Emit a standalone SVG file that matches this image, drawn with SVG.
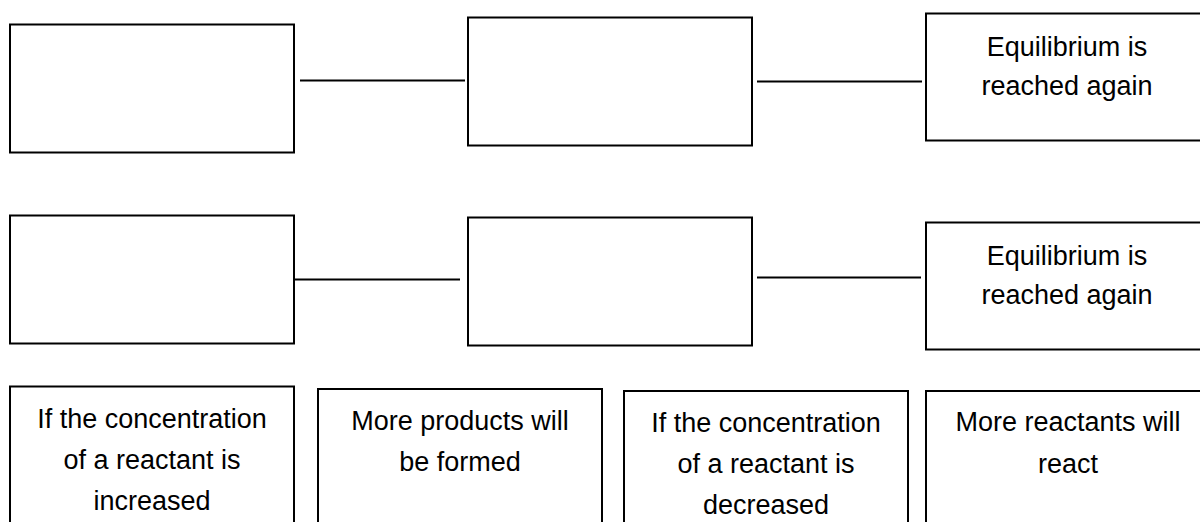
<svg xmlns="http://www.w3.org/2000/svg" width="1200" height="522" viewBox="0 0 1200 522">
<style>
.box{fill:#fff;stroke:#000;stroke-width:2}
.con{stroke:#000;stroke-width:2;fill:none}
text{font-family:"Liberation Sans",Arial,sans-serif;font-size:27px;fill:#000;text-anchor:middle}
</style>
<rect width="1200" height="522" fill="#fff"/>
<g id="connectors">
<line class="con" x1="300" y1="80.5" x2="465" y2="80.5"/>
<line class="con" x1="757" y1="81.5" x2="922" y2="81.5"/>
<line class="con" x1="294" y1="279.5" x2="460" y2="279.5"/>
<line class="con" x1="757" y1="277.5" x2="921" y2="277.5"/>
</g>
<g id="n1"><rect class="box" x="10" y="24.5" width="284" height="128"/></g>
<g id="n2"><rect class="box" x="468" y="17.5" width="284" height="128"/></g>
<g id="n3"><rect class="box" x="926" y="13.5" width="280" height="127"/>
<text x="1067" y="56">Equilibrium is</text><text x="1067" y="95">reached again</text></g>
<g id="n4"><rect class="box" x="10" y="215.5" width="284" height="128"/></g>
<g id="n5"><rect class="box" x="468" y="217.5" width="284" height="128"/></g>
<g id="n6"><rect class="box" x="926" y="222.5" width="280" height="127"/>
<text x="1067" y="265">Equilibrium is</text><text x="1067" y="304">reached again</text></g>
<g id="n7"><rect class="box" x="10" y="386.5" width="284" height="150"/>
<text x="152" y="428">If the concentration</text><text x="152" y="469">of a reactant is</text><text x="152" y="510">increased</text></g>
<g id="n8"><rect class="box" x="318" y="389" width="284" height="150"/>
<text x="460" y="430">More products will</text><text x="460" y="471">be formed</text></g>
<g id="n9"><rect class="box" x="624" y="391" width="284" height="150"/>
<text x="766" y="432">If the concentration</text><text x="766" y="473">of a reactant is</text><text x="766" y="514">decreased</text></g>
<g id="n10"><rect class="box" x="926" y="391" width="280" height="150"/>
<text x="1068" y="431">More reactants will</text><text x="1068" y="473">react</text></g>
</svg>
